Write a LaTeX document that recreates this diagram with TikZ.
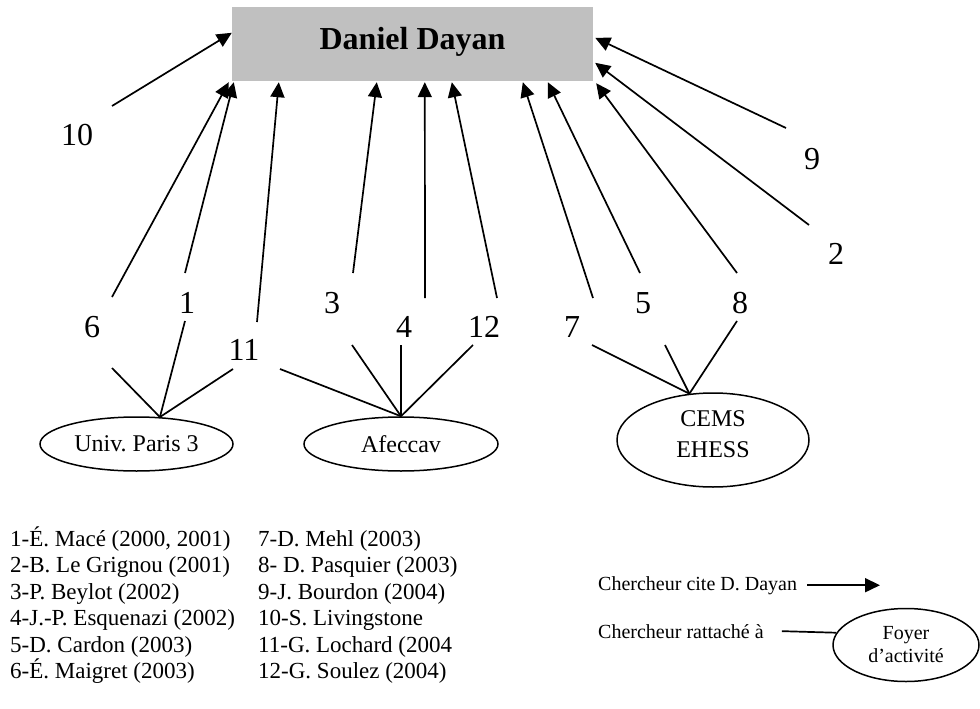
\documentclass[tikz,border=0pt]{standalone}
\usepackage{fontspec}
\setmainfont{Liberation Serif}
\usetikzlibrary{arrows.meta,shapes.geometric,calc}
\definecolor{boxgray}{RGB}{192,192,192}
\frenchspacing
\begin{document}
\begin{tikzpicture}[x=1pt,y=-1pt,
  cite/.style={line width=1.7pt,-{Triangle[length=15pt,width=14pt]}},
  link/.style={line width=1.7pt},
  num/.style={font=\fontsize{32}{36}\selectfont,inner sep=0pt,anchor=base},
  foyer/.style={draw,ellipse,line width=1.5pt,inner sep=0pt,font=\fontsize{24}{31}\selectfont,align=center},
  legend/.style={font=\fontsize{23}{26}\selectfont,inner sep=0pt,anchor=base west},
  small/.style={font=\fontsize{20}{23}\selectfont,inner sep=0pt,anchor=base west}
]
\useasboundingbox (0,0) rectangle (980,709);

% central box
\node[fill=boxgray, minimum width=361pt, minimum height=74pt, inner sep=0pt,
      text height=22pt, text depth=10pt, font=\bfseries\fontsize{32}{36}\selectfont]
      (dd) at (412.5,44) {Daniel Dayan};

% foyers
\node[foyer, minimum width=193pt, minimum height=54pt] (univ) at (136.5,444) {Univ. Paris 3};
\node[foyer, minimum width=194pt, minimum height=54pt] (afec) at (401,444) {Afeccav};
\node[foyer, minimum width=192pt, minimum height=94pt] (cems) at (713,440) {CEMS\\EHESS\rule[-12pt]{0pt}{0pt}};

% number labels
\node[num] (n10) at (77,145) {10};
\node[num] (n6)  at (92,337) {6};
\node[num] (n1)  at (187,313) {1};
\node[num] (n11) at (244,360) {11};
\node[num] (n3)  at (332,313) {3};
\node[num] (n4)  at (404,337) {4};
\node[num] (n12) at (484,337) {12};
\node[num] (n7)  at (572,337) {7};
\node[num] (n5)  at (643,313) {5};
\node[num] (n8)  at (740,313) {8};
\node[num] (n9)  at (812,169) {9};
\node[num] (n2)  at (836,264) {2};

% arrow tails
\coordinate (s10) at (112,106);
\coordinate (s6)  at (112,297);
\coordinate (s1)  at (185,273);
\coordinate (s11) at (257,322);
\coordinate (s3)  at (353,273);
\coordinate (s4)  at (425,298);
\coordinate (s12) at (497,298);
\coordinate (s7)  at (593,298);
\coordinate (s5)  at (640,273);
\coordinate (s8)  at (737,273);
\coordinate (s2)  at (809,225);
\coordinate (s9)  at (786,128);
% arrow tips on the box
\coordinate (t10) at ($(dd.north west)+(0,26)$);
\coordinate (t6)  at ($(dd.south west)+(-3,1)$);
\coordinate (t1)  at ($(dd.south west)+(2,1)$);
\coordinate (t11) at ($(dd.south west)+(47,1)$);
\coordinate (t3)  at ($(dd.south west)+(145,1)$);
\coordinate (t4)  at ($(dd.south west)+(193,1)$);
\coordinate (t12) at ($(dd.south west)+(220,1)$);
\coordinate (t7)  at ($(dd.south west)+(291,1)$);
\coordinate (t5)  at ($(dd.south west)+(316,1)$);
\coordinate (t8)  at ($(dd.south east)+(3,2)$);
\coordinate (t2)  at ($(dd.north east)+(2,56)$);
\coordinate (t9)  at ($(dd.north east)+(2,31)$);

\foreach \k in {10,6,1,11,3,4,12,7,5,8,2,9}
  \draw[cite] (s\k) -- (t\k);

% links researcher -> foyer
\coordinate (u6)  at (112,368);
\coordinate (u1)  at (185,321);
\coordinate (u11) at (233,369);
\coordinate (a11) at (280,369);
\coordinate (a3)  at (352,345);
\coordinate (a4)  at (401,345);
\coordinate (a12) at (473,345);
\coordinate (c7)  at (592,345);
\coordinate (c5)  at (665,345);
\coordinate (c8)  at (737,321);
\foreach \k in {u6,u1,u11} \draw[link] (\k) -- (univ.49);
\foreach \k in {a11,a3,a4,a12} \draw[link] (\k) -- (afec.90);
\foreach \k in {c7,c5,c8} \draw[link] (\k) -- (cems.117);

% legend list
\node[legend] (l1)  at (10,546)   {1-É. Macé (2000, 2001)};
\node[legend] (l2)  at (10,572.5) {2-B. Le Grignou (2001)};
\node[legend] (l3)  at (10,599)   {3-P. Beylot (2002)};
\node[legend] (l4)  at (10,625.5) {4-J.-P. Esquenazi (2002)};
\node[legend] (l5)  at (10,652)   {5-D. Cardon (2003)};
\node[legend] (l6)  at (10,678.5) {6-É. Maigret (2003)};
\node[legend] (l7)  at (258,546)   {7-D. Mehl (2003)};
\node[legend] (l8)  at (258,572.5) {8- D. Pasquier (2003)};
\node[legend] (l9)  at (258,599)   {9-J. Bourdon (2004)};
\node[legend] (l10) at (258,625.5) {10-S. Livingstone};
\node[legend] (l11) at (258,652)   {11-G. Lochard (2004};
\node[legend] (l12) at (258,678.5) {12-G. Soulez (2004)};

% key
\node[small] (lg1) at (598,590) {Chercheur cite D. Dayan};
\node[small] (lg2) at (598,638) {Chercheur rattaché à};
\node[foyer, font=\fontsize{20}{23}\selectfont, minimum width=146pt, minimum height=73pt]
      (foy) at (906,645) {Foyer\\d’activité};
\coordinate (la) at (880,585);
\draw[cite] ([xshift=10pt]lg1.east) -- (la |- lg1.east);
\draw[link] ([xshift=18pt]lg2.east) -- (foy.170);
\end{tikzpicture}
\end{document}
